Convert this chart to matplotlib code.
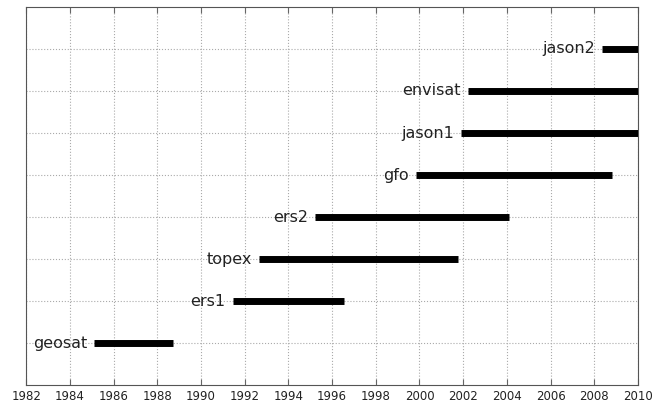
import matplotlib
matplotlib.use("Agg")
import matplotlib.pyplot as plt

# satellite missions, bottom to top
names = ["geosat", "ers1", "topex", "ers2", "gfo", "jason1", "envisat", "jason2"]
starts = [1985.1, 1991.45, 1992.65, 1995.2, 1999.85, 2001.9, 2002.2, 2008.35]
ends = [1988.7, 1996.55, 2001.75, 2004.1, 2008.8, 2010.0, 2010.0, 2010.0]
xticks = list(range(1982, 2011, 2))

fig = plt.figure(figsize=(6.54, 4.08), dpi=100)
ax = fig.add_axes([0.040, 0.056, 0.9355, 0.927])

for i, (n, s, e) in enumerate(zip(names, starts, ends)):
    y = i + 1
    ax.hlines(y, s, e, colors="black", linewidth=5, capstyle="butt", zorder=3)
    ax.annotate(n, (s, y), xytext=(-5, 0), textcoords="offset points",
                ha="right", va="center", fontsize=11.5, color="#222222", zorder=4)

ax.set_xlim(1982, 2010)
ax.set_ylim(0, 9)
ax.set_xticks(xticks)
ax.set_yticks(range(1, len(names) + 1))
ax.set_yticklabels([])
ax.tick_params(axis="both", direction="in", top=True, right=True, length=4,
               color="#666666", labelsize=8.5, labelcolor="#222222")
ax.tick_params(axis="y", length=0)
ax.grid(True, ls=":", color="#aaaaaa", lw=0.8)
ax.set_axisbelow(True)
for sp in ax.spines.values():
    sp.set_color("#555555")

fig.savefig("out.png", dpi=100)
